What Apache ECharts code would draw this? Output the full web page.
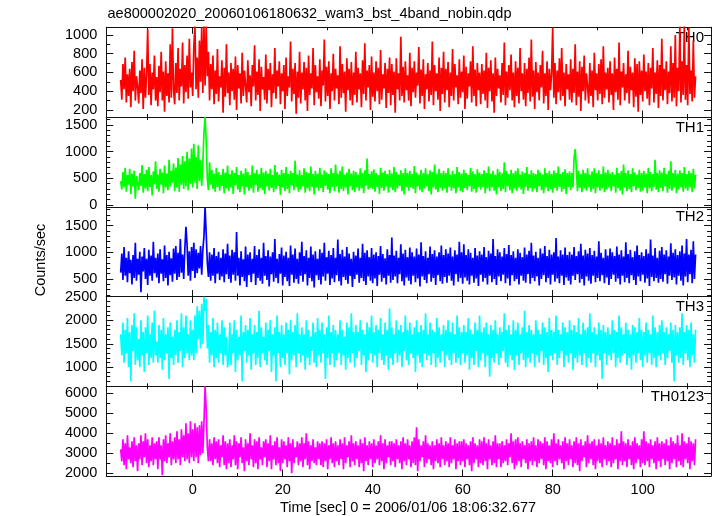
<!DOCTYPE html>
<html><head><meta charset="utf-8">
<script src="https://cdn.jsdelivr.net/npm/echarts@6/dist/echarts.min.js"></script>
<style>html,body{margin:0;padding:0;background:#fff}#c{width:717px;height:516px}</style>
</head><body><div id="c"></div>
<script>
// time grid: first bin and bin width (seconds); one row = 4 s
const T0 = -16, DT = 0.25;

const th0 = [
520,310,690,420,760,280,580,350,640,230,710,400,830,300,560,450,
270,620,380,740,210,650,330,580,1060,360,690,250,600,420,780,300,
550,240,670,390,820,300,610,180,720,350,590,280,900,330,1070,410,
260,700,380,860,300,640,450,920,270,680,390,780,320,960,440,600,
350,880,1100,420,760,330,940,500,1080,380,1100,460,1100,560,820,300,
690,420,780,260,620,370,850,290,560,440,730,170,650,340,900,380,
600,250,700,400,640,310,770,200,680,430,590,270,810,350,620,460,
280,730,390,570,240,680,450,890,300,610,360,740,190,660,420,550,
310,790,270,640,410,700,230,580,380,860,320,620,450,720,260,590,
400,680,210,760,350,560,440,930,290,640,370,700,160,610,330,820,
270,600,420,710,300,650,190,780,360,590,430,860,250,680,390,560,
320,740,240,620,460,950,290,660,350,720,210,590,400,800,300,640,
430,570,260,880,330,690,380,610,180,750,410,640,300,710,250,600,
360,820,280,650,420,590,230,730,370,910,300,620,440,680,200,770,
340,600,290,720,400,650,260,840,310,580,430,700,220,640,380,760,
250,690,360,610,170,750,420,590,300,980,350,660,280,720,410,570,
300,810,240,650,390,720,330,600,460,870,270,630,350,740,210,580,
420,700,290,620,360,930,250,680,400,590,310,760,190,650,370,820,
280,640,410,710,230,600,350,850,300,690,440,570,260,740,330,610,
390,780,210,660,320,590,450,720,280,880,350,630,240,700,410,600,
260,690,370,620,300,810,220,650,400,730,290,590,170,760,350,640,
430,570,280,700,360,920,250,610,330,680,410,790,300,600,230,720,
350,650,270,860,400,590,310,700,240,640,380,760,290,950,340,620,
210,710,390,600,300,680,440,830,270,590,350,720,200,640,410,580,
1080,330,700,260,620,390,750,300,860,350,600,240,690,420,580,310,
740,280,640,380,900,250,610,340,720,190,660,400,780,300,590,450,
270,700,350,620,230,810,410,590,300,690,370,740,260,880,330,600,
420,650,280,720,360,590,200,760,390,640,310,920,250,610,440,700,
300,580,380,830,270,660,410,600,230,750,340,690,180,720,360,620,
290,790,400,610,320,700,250,650,430,860,280,600,370,730,220,680,
350,960,300,640,410,720,260,610,380,880,290,700,330,1000,240,650,
400,1090,280,720,360,1100,310,680,250,1080,370,620,290,940,330,560
];
const th1 = [
450,290,620,330,700,250,560,380,680,210,590,350,640,120,540,400,
280,600,360,750,230,580,310,660,260,710,340,560,180,630,390,820,
300,570,250,680,380,610,220,740,330,590,280,850,350,640,420,780,
260,700,330,880,250,760,380,920,300,820,350,1000,280,870,400,1060,
330,1150,420,900,300,1120,450,840,360,780,1350,1650,1200,480,280,800,
380,660,300,590,250,700,340,620,270,560,360,680,220,610,310,740,
260,580,330,650,210,600,370,710,290,560,240,640,350,590,200,690,
340,620,270,560,310,740,230,600,380,660,250,580,320,700,280,610,
210,640,350,590,270,680,320,560,240,750,300,620,360,570,190,660,
330,600,260,710,300,580,220,640,370,600,280,830,340,570,250,650,
290,560,350,690,230,620,310,600,260,720,340,580,200,640,330,590,
270,700,320,570,240,650,360,610,290,580,220,690,340,600,260,760,
350,590,230,640,300,720,260,570,330,610,200,680,350,590,280,640,
240,620,330,570,270,690,310,600,220,650,360,870,290,580,320,630,
300,670,250,600,340,560,210,700,320,610,270,640,350,580,230,660,
330,590,280,710,240,620,310,570,360,650,260,600,200,690,340,600,
270,640,330,580,300,730,220,610,350,570,280,660,240,600,310,690,
350,580,260,650,200,620,330,760,290,590,240,680,320,600,270,640,
310,600,230,690,340,570,270,640,310,580,220,710,330,620,260,590,
240,660,320,600,280,560,350,700,250,630,300,580,230,670,340,610,
290,580,340,650,220,600,310,720,260,590,330,640,270,570,200,680,
330,620,260,590,300,800,240,640,350,580,280,660,220,600,310,640,
260,690,330,570,290,630,210,600,340,710,270,580,320,650,250,600,
310,580,240,660,350,610,280,570,220,690,330,600,260,640,300,580,
230,650,320,600,270,720,340,580,250,620,300,670,210,600,340,630,
280,600,330,880,1050,700,260,640,320,580,240,660,310,600,270,690,
340,570,250,630,300,690,220,600,330,650,270,580,310,720,240,610,
290,660,330,590,260,620,350,570,230,700,310,600,270,640,200,760,
330,600,260,650,300,580,240,690,350,610,280,570,320,660,250,600,
270,640,330,590,220,700,310,620,260,580,340,850,290,600,240,650,
320,610,260,700,350,580,230,640,300,820,270,600,330,660,220,590,
290,650,340,600,250,710,310,580,270,640,330,600,240,680,310,570
];
const th2 = [
620,980,480,1100,560,900,440,1020,610,860,400,950,520,1180,470,880,
580,1010,250,920,640,1080,500,880,390,1050,560,940,470,1200,610,900,
530,980,420,1060,600,870,460,1130,520,950,380,1010,570,890,450,1070,
600,1120,480,990,540,1250,620,960,500,1060,1480,1150,560,1020,470,1100,
650,1180,520,1060,610,990,700,1120,580,1040,1300,1850,1350,800,540,1000,
470,960,560,1080,420,930,600,1010,480,900,550,1060,440,980,590,1160,
500,940,430,1050,580,1000,470,1380,560,900,380,1020,540,870,460,1110,
350,960,570,1000,440,880,600,1120,390,950,520,1060,470,900,410,1180,
560,930,480,1040,360,920,590,1000,450,1250,520,880,420,970,600,1090,
380,940,540,1010,460,900,370,1130,580,960,430,1070,500,880,410,1000,
560,1200,450,930,590,1040,380,900,520,1110,460,960,340,1020,570,880,
480,1060,400,990,550,1180,470,910,600,1030,390,950,510,1080,440,900,
570,1240,460,970,380,1050,540,920,480,1100,410,980,560,880,350,1010,
500,940,580,1070,430,900,520,1160,460,990,390,1040,550,910,470,1080,
420,960,510,1000,370,930,580,1120,450,970,520,890,400,1060,560,950,
430,1280,480,940,550,1030,420,900,590,1150,460,980,380,1050,530,910,
470,1090,400,1000,560,920,440,1070,510,960,360,1190,550,930,480,1020,
420,900,590,1110,450,970,520,1040,390,920,570,1000,460,1130,410,950,
540,1060,430,980,560,1090,470,920,380,1040,590,960,450,1200,520,1000,
410,1150,530,950,470,1060,400,990,560,900,430,1080,510,940,370,1020,
580,960,450,1100,520,910,400,1030,560,980,440,1250,500,930,390,1060,
550,1000,460,920,580,1080,420,970,510,1140,380,950,570,1020,460,900,
500,1060,400,990,560,910,470,1090,430,960,590,1030,410,1180,520,940,
460,1010,550,900,380,1070,500,980,570,1120,440,930,520,1050,400,960,
580,1000,450,1270,510,920,420,1040,560,960,390,1090,530,950,470,1010,
400,960,560,1100,480,930,590,1020,430,1160,500,940,380,1050,550,980,
470,1080,410,950,560,1030,440,920,520,1210,460,990,570,900,420,1060,
530,940,390,1070,500,1000,580,930,450,1110,510,960,400,1040,560,920,
440,1190,520,970,420,1050,570,910,480,1020,390,1130,550,950,460,1000,
580,930,430,1060,510,980,370,1240,540,940,460,1080,520,900,430,1030,
500,1100,450,960,590,1040,410,920,560,1170,480,990,530,1060,400,950,
560,1020,470,1130,380,980,550,1250,440,960,590,1050,420,1210,500,960
];
const th3 = [
1700,1250,1950,1100,1800,1300,2050,1000,1750,700,1900,1350,2150,1050,1850,1150,
1600,1000,2000,1250,1750,900,1850,1300,2100,1050,1700,1200,1950,1100,2200,1250,
1550,1100,1900,1200,1800,950,2050,1150,1700,1300,1850,750,1950,1200,1650,1050,
1800,1250,2000,1100,1750,1350,2150,1000,1850,1200,2100,1300,1700,1150,2000,1250,
1800,1150,2100,1300,2300,1600,2200,1400,2350,1500,2500,2200,2450,1400,1900,1100,
1750,1250,2050,1000,1800,1200,1950,1100,1700,1300,2000,1050,1850,1250,1650,1000,
1200,1950,1050,1700,1300,2000,900,1800,1150,1650,1250,2100,700,1750,1350,1900,
1100,1800,1250,2050,950,1700,1300,1900,1050,1750,1200,2200,1000,1850,1300,1650,
1150,1950,1050,1800,1350,2000,900,1700,1250,1850,700,2100,1300,1750,1000,1900,
1200,1700,1050,1950,1300,1800,850,2000,1150,1750,1250,1900,1000,2150,1300,1700,
1100,1850,1250,1700,950,2000,1200,1800,1050,1650,1350,1950,1100,1750,1000,2050,
1250,1800,1100,1950,1300,1700,750,1850,1200,2100,1050,1750,1300,1900,1000,1800,
1150,1700,1300,2000,1050,1800,1250,1650,950,1950,1200,1850,1100,2150,1300,1750,
1000,1900,1200,1750,1350,2000,1050,1800,1250,1700,900,1950,1150,1850,1300,2100,
1100,1750,1250,1900,1000,1800,1300,2050,1150,1700,1050,1950,1250,1800,950,2250,
1200,1850,1050,1700,1300,2000,1100,1800,1250,1900,1000,1750,1350,2100,1150,1800,
1050,1950,1300,1700,1200,1850,900,2000,1250,1750,1100,1900,1000,1800,1300,2150,
1150,1700,1250,1950,1050,1800,1300,1750,1000,2050,1200,1850,1100,1700,1350,1900,
1000,1800,1250,2000,1150,1750,1050,1950,1300,1700,1100,2100,1200,1850,1050,1750,
1300,1900,1100,1750,1250,2050,950,1800,1200,1700,1050,1950,1350,1800,1000,2100,
1150,1750,1300,1850,1000,1950,1250,1700,800,1900,1200,1800,1100,2000,1300,1700,
1050,1850,1200,1750,1350,2150,1100,1800,1000,1900,1250,1700,1150,2000,950,1800,
1250,1950,1050,1700,1300,1850,1150,2200,1000,1750,1200,1900,1100,1800,1300,1700,
1000,2000,1250,1800,1100,1700,1350,1950,1050,1850,1200,1750,900,2050,1250,1800,
1150,1750,1300,2100,1050,1800,1200,1700,1350,1950,1000,1850,1250,1750,1100,2000,
1300,1800,950,1900,1200,1750,1100,2050,1250,1700,1050,1950,1300,1800,1000,1850,
1200,2150,1100,1750,1300,1850,1000,1700,1250,1950,1150,1800,750,1900,1300,1750,
1050,1850,1250,1700,1150,2000,1300,1800,1000,1750,1200,2100,1100,1850,1250,1700,
1300,1950,1050,1800,1200,1700,950,1900,1250,1850,1100,1750,1300,2050,1150,1800,
1000,1750,1250,1950,1100,1800,1300,1700,1050,2100,1200,1850,1000,1750,1250,1900,
1150,2000,1300,1750,1050,1850,1200,1700,1350,1950,1100,1800,700,1900,1250,1750,
1100,1850,1200,2150,1050,1750,1300,1900,1150,1800,1000,1950,1250,1700,1100,1800
];
const th0123 = [
3200,2600,3700,2400,3500,2200,3900,2700,3300,2500,3600,2300,3800,2600,3400,2100,
3500,2700,3900,2400,3600,2800,4000,2500,3700,2300,3400,2600,3800,2400,3500,2700,
3600,2200,3800,2700,3400,1900,3700,2600,3900,2500,3500,2800,4000,2400,3600,2700,
3800,2500,4100,2700,3700,2400,4200,2800,3900,2600,4500,2700,4000,2500,4600,2800,
4200,2600,4500,2800,4300,2500,4400,2900,4600,3000,4500,6350,5200,3300,2600,3700,
2600,3500,2400,3800,2700,3600,2500,3700,2300,3400,2800,3900,2400,3600,2200,3500,
2500,3700,2300,3400,2700,3900,2400,3600,2200,3500,2800,3800,2500,3300,2100,3700,
2600,3500,2400,4000,2700,3400,2300,3700,2500,3600,2200,3800,2700,3300,2400,3600,
2800,3700,2300,3500,2600,3900,2200,3400,2700,3600,2400,3800,2500,3300,2100,3700,
2500,3600,2700,3400,2300,3800,2600,3500,2000,3700,2500,3300,2800,3600,2400,3500,
2600,3800,2300,3500,2700,4000,2400,3600,2200,3400,2600,3700,2500,3300,2400,3600,
2700,3500,2400,3600,2300,3500,2600,3700,2200,3400,2700,3800,2500,3500,2300,3600,
2600,3400,2400,3700,2700,3500,2200,3800,2500,3400,2800,3600,2300,3900,2600,3500,
2400,3600,2700,3400,2300,3700,2500,3500,2100,3800,2600,3400,2400,3600,2700,3500,
2300,3700,2500,3400,2700,3600,2400,3900,2600,3500,2200,3700,2500,3400,2800,3600,
2400,3600,2600,3500,2300,3700,2700,3400,2500,3600,2200,3800,2600,3500,2400,3700,
2700,3400,2300,3600,2500,3800,2400,4300,2100,3700,2600,3400,2800,3600,2300,3900,
2500,3500,2700,3400,2400,3600,2200,3400,2600,3700,2500,3500,2300,3800,2700,3400,
2400,3600,2600,3500,2300,3800,2500,3400,2700,3700,2200,3500,2600,3600,2400,3600,
2600,3700,2300,3500,2700,3400,2400,3600,2100,3800,2500,3500,2700,3400,2300,3700,
2500,3600,2400,3800,2600,3500,2200,3700,2700,3400,2400,3600,2500,3900,2300,3500,
2700,3500,2300,3600,2500,3400,2600,3700,2400,3500,2800,4000,2500,3600,2200,3700,
2400,3800,2600,3500,2300,3600,2700,3400,2500,3700,2200,3500,2600,3600,2400,3800,
2600,3400,2300,3700,2500,3600,2700,3500,2400,3800,2200,3600,2600,3400,2500,3700,
2300,4000,2600,3500,2400,3700,2700,3400,2500,3600,2200,3800,2600,3500,2400,3700,
2700,3400,2300,3600,2500,3800,2400,3500,2100,3700,2600,3400,2800,3600,2300,3900,
2500,3500,2700,3600,2400,3700,2200,3400,2600,3700,2500,3500,2300,3800,2700,3400,
2400,3600,2600,3500,2300,3800,2500,3400,2700,3700,2200,3500,2600,4100,2400,3600,
2600,3500,2300,3700,2700,3400,2400,3600,2200,3800,2500,3500,2700,3400,2300,3700,
2500,4100,2400,3600,2600,3500,2300,3700,2700,3400,2500,3600,2200,3800,2600,3500,
2300,3600,2700,3500,2400,3700,2600,3400,2200,3800,2500,3600,2700,3500,2300,3900,
2600,3400,2400,4000,2300,3600,2700,3500,2500,3800,2200,3600,2600,3500,2400,3700
];

const panelNames = ['TH0', 'TH1', 'TH2', 'TH3', 'TH0123'];
const seriesValues = [th0, th1, th2, th3, th0123];
const colors = ['#ff0000', '#00ff00', '#0000ff', '#00ffff', '#ff00ff'];
const yMin = [125, -32, 172, 598, 1865];
const yMax = [1082, 1650, 1856, 2505, 6355];
const yMajorTicks = [
  [200, 400, 600, 800, 1000],
  [0, 500, 1000, 1500],
  [500, 1000, 1500],
  [1000, 1500, 2000, 2500],
  [2000, 3000, 4000, 5000, 6000]
];
const yMinorStep = [100, 100, 100, 100, 500];
const xMin = -19.2, xMax = 115.2;
const xMajorTicks = [0, 20, 40, 60, 80, 100];
const xMinorTicks = [-10, 10, 30, 50, 70, 90, 110];
const titleText = 'ae800002020_20060106180632_wam3_bst_4band_nobin.qdp';
const xTitle = 'Time [sec] 0 = 2006/01/06 18:06:32.677';
const yTitle = 'Counts/sec';

const FONT = '"Liberation Sans", Arial, Helvetica, sans-serif';
const LINE = '#111';
const GL = 106.3, GW = 604.8, GT = 27.25, GH = 89.75;
const plain = v => String(v);

const grid = [], xAxis = [], yAxis = [], series = [], graphic = [];

for (let i = 0; i < 5; i++) {
  grid.push({ left: GL, width: GW, top: GT + i * GH, height: GH, show: false });
  const minor = [];
  for (let v = Math.ceil(yMin[i] / yMinorStep[i]) * yMinorStep[i]; v <= yMax[i]; v += yMinorStep[i]) {
    if (yMajorTicks[i].indexOf(v) < 0) minor.push(v);
  }
  ['bottom', 'top'].forEach(pos => {
    xAxis.push({
      gridIndex: i, type: 'value', min: xMin, max: xMax, position: pos,
      axisLine: { show: true, onZero: false, lineStyle: { color: LINE, width: 1 } },
      axisTick: { show: true, inside: true, length: 6.5, customValues: xMajorTicks, lineStyle: { color: LINE, width: 1 } },
      axisLabel: { show: pos === 'bottom' && i === 4, customValues: xMajorTicks, margin: 6, formatter: plain,
        color: '#000', fontSize: 14.5, fontFamily: FONT },
      splitLine: { show: false }
    });
    xAxis.push({
      gridIndex: i, type: 'value', min: xMin, max: xMax, position: pos,
      axisLine: { show: false, onZero: false },
      axisTick: { show: true, inside: true, length: 3, customValues: xMinorTicks, lineStyle: { color: LINE, width: 1 } },
      axisLabel: { show: false }, splitLine: { show: false }
    });
  });
  ['left', 'right'].forEach(pos => {
    yAxis.push({
      gridIndex: i, type: 'value', min: yMin[i], max: yMax[i], position: pos,
      axisLine: { show: true, onZero: false, lineStyle: { color: LINE, width: 1 } },
      axisTick: { show: true, inside: true, length: 7, customValues: yMajorTicks[i], lineStyle: { color: LINE, width: 1 } },
      axisLabel: { show: pos === 'left', customValues: yMajorTicks[i], margin: 9, formatter: plain,
        color: '#000', fontSize: 14.5, fontFamily: FONT },
      splitLine: { show: false }
    });
    yAxis.push({
      gridIndex: i, type: 'value', min: yMin[i], max: yMax[i], position: pos,
      axisLine: { show: false, onZero: false },
      axisTick: { show: true, inside: true, length: 4, customValues: minor, lineStyle: { color: LINE, width: 1 } },
      axisLabel: { show: false }, splitLine: { show: false }
    });
  });
  const vals = seriesValues[i];
  series.push({
    type: 'line', xAxisIndex: i * 4, yAxisIndex: i * 4,
    data: vals.map((v, k) => [T0 + k * DT, v]),
    symbol: 'none', clip: true, silent: true,
    lineStyle: { color: colors[i], width: 1.7 }
  });
  graphic.push({
    type: 'text', x: 704, y: GT + i * GH + 10.5,
    style: { text: panelNames[i], align: 'right', verticalAlign: 'middle', fill: '#000',
      font: '15px ' + FONT }
  });
}
graphic.push({ type: 'text', x: 107.5, y: 14,
  style: { text: titleText, align: 'left', verticalAlign: 'middle', fill: '#000', font: '14.5px ' + FONT } });
graphic.push({ type: 'text', x: 408, y: 508,
  style: { text: xTitle, align: 'center', verticalAlign: 'middle', fill: '#000', font: '14.5px ' + FONT } });
graphic.push({ type: 'text', x: 41, y: 260, rotation: Math.PI / 2,
  style: { text: yTitle, align: 'center', verticalAlign: 'middle', fill: '#000', font: '14.5px ' + FONT } });

const chart = echarts.init(document.getElementById('c'), null, { renderer: 'canvas' });
chart.setOption({
  animation: false, backgroundColor: '#fff',
  grid, xAxis, yAxis, series, graphic
});
</script></body></html>
